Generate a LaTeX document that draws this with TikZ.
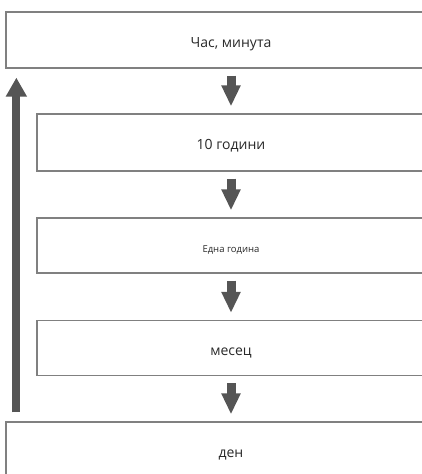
\documentclass[tikz,border=0pt]{standalone}
\usepackage{fontspec}
\setmainfont{Open Sans}
\usetikzlibrary{arrows.meta}
\tikzset{>=stealth}
\definecolor{kutija}{RGB}{128,128,128}
\definecolor{strelka}{RGB}{85,85,85}
\definecolor{tekst}{RGB}{40,40,40}
\newcommand{\drawKutija}[5] {
	\node [kutija, minimum width=#4, minimum height=#5] (#1) at (231,#2) {#3};
}

\begin{document}
\begin{tikzpicture}[x=1pt, y=-1pt,
	kutija/.style={draw=kutija, line width=1.3pt, rectangle, text=tekst,
		font=\fontsize{14}{16}\selectfont, inner sep=0pt,
		text height=14pt, text depth=0pt},
	nadolu/.style={draw=strelka, line width=9pt,
		-{Triangle[width=18pt,length=21pt]}, shorten >=7pt, shorten <=7pt},
	nagore/.style={draw=strelka, line width=8pt,
		-{Triangle[width=20pt,length=19pt]}, shorten >=9pt, shorten <=9pt}]

	\path [use as bounding box, clip] (0,0) rectangle (422,474);

	\drawKutija{chas}{40}{Час, минута}{450}{56};
	\drawKutija{godini}{142.5}{10 години}{388}{57};
	\drawKutija{godina}{245.5}{\fontsize{9.5}{10}\selectfont Една година}{388}{55};
	\drawKutija{mesec}{348}{месец}{388}{55};
	\drawKutija{den}{450}{ден}{450}{56};

	\draw [nadolu] (chas.south) -- (godini.north);
	\draw [nadolu] (godini.south) -- (godina.north);
	\draw [nadolu] (godina.south) -- (mesec.north);
	\draw [nadolu] (mesec.south) -- (den.north);

	\draw [nagore] ([xshift=11pt]den.north west) -- ([xshift=11pt]chas.south west);

\end{tikzpicture}
\end{document}
